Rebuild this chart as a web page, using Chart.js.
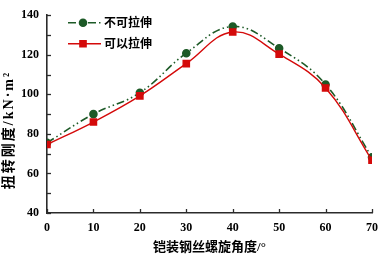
<!DOCTYPE html>
<html>
<head>
<meta charset="utf-8">
<script src="https://cdn.jsdelivr.net/npm/chart.js@4.4.0/dist/chart.umd.min.js"></script>
<style>
  html, body { margin: 0; padding: 0; background: #fff; }
  #wrap { width: 379px; height: 255px; }
</style>
</head>
<body>
<div id="wrap"><canvas id="c" width="379" height="255"></canvas></div>
<script>
// 螺旋角度 (°)
var angles = [0, 10, 20, 30, 40, 50, 60, 70];
// 扭转刚度 kN·m²
var noStretch = [75.5, 90, 100.8, 120.8, 134.3, 123.3, 105, 68.2];
var canStretch = [74.6, 86, 99.2, 115.5, 131.5, 120.3, 103.2, 66.7];
var seriesNames = ['不可拉伸', '可以拉伸'];
var yTicks = [40, 60, 80, 100, 120, 140];
var xTicks = [0, 10, 20, 30, 40, 50, 60, 70];
var yTitle = '扭转刚度/kN·m²';
var xTitle = '铠装钢丝螺旋角度/°';

var numFont = "'Liberation Serif', 'Times New Roman', serif";
var cjkFont = "'Liberation Serif', 'Noto Sans CJK SC', serif";
var axisColor = '#2b2b2b';
var green = '#1d5a27';
var red = '#d40a0a';

// 刻度朝内 + 图例（线段加标记）+ 纵轴标题
var decorPlugin = {
  id: 'decor',
  afterDraw: function(chart) {
    var ctx = chart.ctx;
    var xs = chart.scales.x, ys = chart.scales.y;
    var area = chart.chartArea;
    ctx.save();
    ctx.strokeStyle = axisColor;
    ctx.lineWidth = 1.3;
    for (var v = 40; v <= 140; v += 10) {
      var py = Math.round(ys.getPixelForValue(v)) + 0.5;
      ctx.beginPath();
      ctx.moveTo(area.left, py);
      ctx.lineTo(area.left + 4, py);
      ctx.stroke();
    }
    xTicks.forEach(function(t) {
      var px = Math.round(xs.getPixelForValue(t)) + 0.5;
      ctx.beginPath();
      ctx.moveTo(px, area.bottom);
      ctx.lineTo(px, area.bottom - 4);
      ctx.stroke();
    });
    // legend
    var items = chart.data.datasets;
    var lx = area.left + 21, ly = area.top + 7.5;
    items.forEach(function(ds, i) {
      var y = ly + i * 21;
      ctx.strokeStyle = ds.borderColor;
      ctx.fillStyle = ds.borderColor;
      ctx.lineWidth = ds.borderWidth;
      ctx.setLineDash(ds.borderDash || []);
      ctx.beginPath();
      ctx.moveTo(lx, y);
      ctx.lineTo(lx + 33, y);
      ctx.stroke();
      ctx.setLineDash([]);
      Chart.helpers.drawPoint(ctx, {
        pointStyle: ds.pointStyle,
        radius: ds.pointRadius,
        borderWidth: 1
      }, lx + 15, y);
      ctx.fillStyle = '#000';
      ctx.font = "bold 12px " + cjkFont;
      ctx.textBaseline = 'middle';
      ctx.textAlign = 'left';
      ctx.fillText(ds.label, lx + 36, y + 1);
    });
    // y title
    ctx.translate(9, 130);
    ctx.rotate(-Math.PI / 2);
    ctx.fillStyle = '#000';
    ctx.font = "bold 14px " + cjkFont;
    ctx.letterSpacing = '2px';
    ctx.textAlign = 'center';
    ctx.textBaseline = 'middle';
    ctx.fillText(yTitle, 0, 0);
    ctx.restore();
  }
};

var chart = new Chart(document.getElementById('c').getContext('2d'), {
  type: 'line',
  data: {
    datasets: [
      {
        label: seriesNames[0],
        data: angles.map(function(a, i) { return { x: a, y: noStretch[i] }; }),
        borderColor: green,
        backgroundColor: green,
        pointBackgroundColor: green,
        pointBorderColor: green,
        borderWidth: 1.6,
        borderDash: [8, 3, 1.5, 3, 1.5, 3],
        pointStyle: 'circle',
        pointRadius: 3.5,
        tension: 0.4,
        order: 1
      },
      {
        label: seriesNames[1],
        data: angles.map(function(a, i) { return { x: a, y: canStretch[i] }; }),
        borderColor: red,
        backgroundColor: red,
        pointBackgroundColor: red,
        pointBorderColor: red,
        borderWidth: 1.4,
        pointStyle: 'rect',
        pointRadius: 4.4,
        tension: 0.4,
        order: 0
      }
    ]
  },
  options: {
    responsive: false,
    animation: false,
    layout: { padding: { top: 15, right: 0, left: 0, bottom: 0 } },
    plugins: { legend: { display: false }, tooltip: { enabled: false } },
    scales: {
      x: {
        type: 'linear',
        min: 0, max: 70,
        afterBuildTicks: function(s) { s.ticks = xTicks.map(function(v) { return { value: v }; }); },
        afterFit: function(s) { s.height = 42; s.paddingRight = 7; s.paddingLeft = 0; },
        border: { display: true, color: axisColor, width: 1.6 },
        grid: { display: false, drawTicks: false },
        ticks: { padding: 8, color: '#000', font: { family: numFont, size: 12, weight: 'bold' } },
        title: {
          display: true, text: xTitle, color: '#000',
          font: { family: cjkFont, size: 13, weight: 'bold' }, padding: { top: 2, bottom: 0 }
        }
      },
      y: {
        min: 40, max: 140,
        afterBuildTicks: function(s) { s.ticks = yTicks.map(function(v) { return { value: v }; }); },
        afterFit: function(s) { s.width = 47; },
        border: { display: true, color: axisColor, width: 1.6 },
        grid: { display: false, drawTicks: false },
        ticks: { padding: 8, color: '#000', font: { family: numFont, size: 12, weight: 'bold' } },
        title: { display: false }
      }
    }
  },
  plugins: [decorPlugin]
});
</script>
</body>
</html>
